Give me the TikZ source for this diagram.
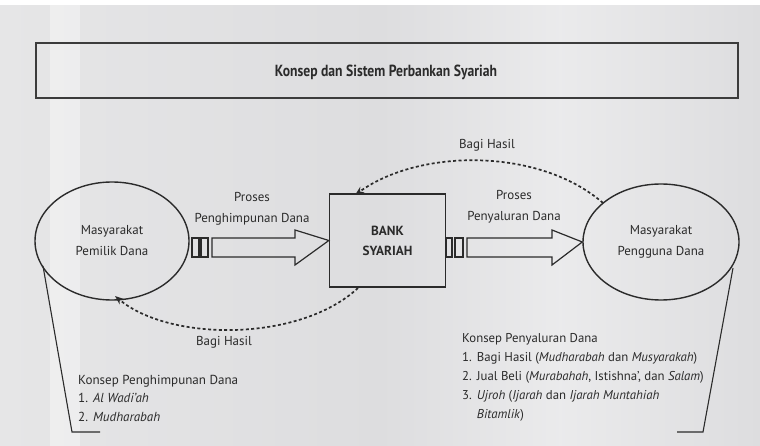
\documentclass[tikz,border=0pt]{standalone}
\usepackage{fontspec}
\usepackage{graphicx}
\setmainfont{PT Sans}
\usetikzlibrary{shapes.geometric,arrows.meta}
\definecolor{bgA}{HTML}{E6E6E7}
\definecolor{bgB}{HTML}{DDDDDF}
\definecolor{ink}{HTML}{2B2B2B}
\definecolor{frame}{HTML}{3C3C3C}
\newlength\tmplen
\newcommand\sizefor[3]{%
  \settowidth\tmplen{\normalfont\fontsize{10}{12}\selectfont #3}%
  \pgfmathsetmacro#1{10*#2/\tmplen}}
\tikzset{
  txt/.style={text=ink, font=\fontsize{\fszL}{21}\selectfont, inner sep=0pt, align=center},
  listtxt/.style={text=ink, inner sep=0pt, anchor=north west},
  person/.style={ellipse, draw=ink, line width=1.4pt, inner sep=0pt, txt},
  bankbox/.style={rectangle, draw=ink, line width=1.3pt, inner sep=0pt, txt, font=\bfseries\fontsize{\fszB}{20}\selectfont},
  titlebox/.style={rectangle, draw=frame, line width=1.6pt, inner sep=0pt, minimum width=702pt, minimum height=55pt},
  titletxt/.style={text=ink, inner sep=0pt},
  flowarrow/.style={draw=ink, line width=1.2pt, line join=miter},
  sq/.style={draw=ink, line width=1.2pt},
  profit/.style={draw=ink, line width=1.7pt, dash pattern=on 3pt off 2.4pt, -{Stealth[length=9pt,width=7pt]}},
  bracket/.style={draw=ink, line width=1.1pt}
}
\begin{document}
\sizefor{\fszL}{115}{Penghimpunan Dana}%
\sizefor{\fszB}{50}{\bfseries SYARIAH}%
\sizefor{\fszLL}{160}{Konsep Penghimpunan Dana}%
\sizefor{\fszRL}{243}{2.\hspace{5pt}Jual Beli (\textit{Murabahah}, Istishna', dan \textit{Salam})}%
\begin{tikzpicture}[x=1pt,y=-1pt]
\useasboundingbox (0,0) rectangle (760,446);
% background
\shade[left color=bgA, right color=bgB] (0,0) rectangle (380,446);
\shade[left color=bgB, right color=bgB!60!white] (380,0) rectangle (560,446);
\shade[left color=bgB!60!white, right color=bgB] (560,0) rectangle (760,446);
\fill[white] (0,0) rectangle (760,5);
\fill[white, opacity=0.35] (50,5) rectangle (80,446);

% title
\node[titlebox] (title) at (387,70.5) {};
\node[titletxt] (titletext) at (386,72) {\resizebox{222pt}{11.5pt}{\normalfont\bfseries\fontsize{14}{16}\selectfont Konsep dan Sistem Perbankan Syariah}};

% main nodes
\node[person, minimum width=154pt, minimum height=118pt] (owner) at (112,241) {Masyarakat\\Pemilik Dana};
\node[bankbox, minimum width=116pt, minimum height=93pt] (bank) at (387.5,240.5) {BANK\\SYARIAH};
\node[person, minimum width=156pt, minimum height=116pt] (user) at (661,242) {Masyarakat\\Pengguna Dana};

% left flow arrow
\draw[sq] (192,238) rectangle (199,257);
\draw[sq] (201,238) rectangle (208,257);
\coordinate (lb) at (bank.west);
\draw[flowarrow] (212,238) -- (295,238) -- (295,230) -- (lb) -- (295,265) -- (295,257) -- (212,257) -- cycle;
\node[txt] (lbl1) at (252,209) {Proses\\Penghimpunan Dana};

% right flow arrow
\draw[sq] (446,238) rectangle (452,257);
\draw[sq] (455,238) rectangle (463,257);
\coordinate (rb) at (user.west);
\draw[flowarrow] (467,238) -- (552,238) -- (552,230) -- (rb) -- (552,265) -- (552,257) -- (467,257) -- cycle;
\node[txt] (lbl2) at (514,207) {Proses\\Penyaluran Dana};

% profit sharing dashed curves
\coordinate (ts) at (603,203);
\coordinate (te) at (355,195);
\draw[profit] (ts) .. controls (540,148) and (420,148) .. (te);
\node[txt] (bh1) at (487,145) {Bagi Hasil};

\coordinate (bs) at (358,288);
\coordinate (be) at (115,296);
\draw[profit] (bs) .. controls (300,342) and (170,342) .. (be);
\node[txt] (bh2) at (224,342) {Bagi Hasil};

% brackets
\coordinate (lk1) at (43,266);
\coordinate (lk2) at (72,432);
\coordinate (lk3) at (100,432);
\draw[bracket] (lk1) -- (lk2) -- (lk3);
\coordinate (rk1) at (733,268);
\coordinate (rk2) at (703,432);
\coordinate (rk3) at (677,432);
\draw[bracket] (rk1) -- (rk2) -- (rk3);

% lists
\node[listtxt] (leftlist) at (78,371) {\fontsize{\fszLL}{18.5}\selectfont
\begin{tabular}{@{}l@{\hspace{5pt}}l@{}}
\multicolumn{2}{@{}l@{}}{Konsep Penghimpunan Dana}\\
1. & \textit{Al Wadi'ah}\\
2. & \textit{Mudharabah}
\end{tabular}};

\node[listtxt] (rightlist) at (462,329) {\fontsize{\fszRL}{19}\selectfont
\begin{tabular}{@{}l@{\hspace{5pt}}l@{}}
\multicolumn{2}{@{}l@{}}{Konsep Penyaluran Dana}\\
1. & Bagi Hasil (\textit{Mudharabah} dan \textit{Musyarakah})\\
2. & Jual Beli (\textit{Murabahah}, Istishna', dan \textit{Salam})\\
3. & \textit{Ujroh} (\textit{Ijarah} dan \textit{Ijarah Muntahiah}\\
   & \textit{Bitamlik})
\end{tabular}};
\end{tikzpicture}
\end{document}
